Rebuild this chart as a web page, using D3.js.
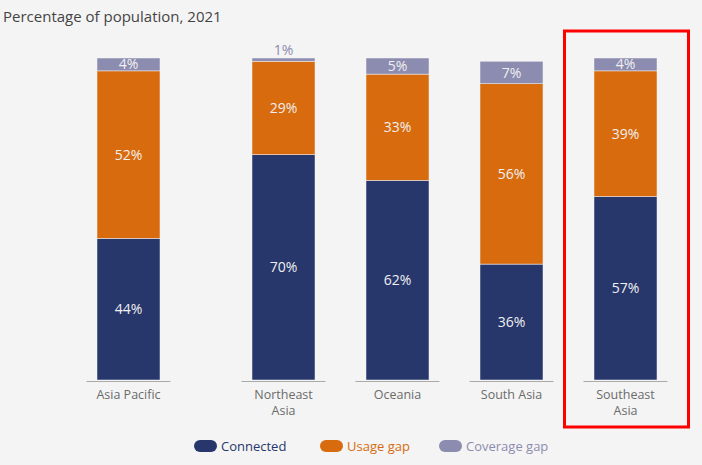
<!DOCTYPE html>
<html>
<head>
<meta charset="utf-8">
<script src="https://cdn.jsdelivr.net/npm/d3@7"></script>
<style>
  body { margin: 0; background: #f4f4f4; }
  svg { display: block; font-family: "Open Sans", "Noto Sans", sans-serif; }
</style>
</head>
<body>
<div id="chart"></div>
<script>
"use strict";

// data
const regions = ["Asia Pacific", "Northeast Asia", "Oceania", "South Asia", "Southeast Asia"];
const regionLines = [["Asia Pacific"], ["Northeast", "Asia"], ["Oceania"], ["South Asia"], ["Southeast", "Asia"]];
const connected = [44, 70, 62, 36, 57];
const usageGap = [52, 29, 33, 56, 39];
const coverageGap = [4, 1, 5, 7, 4];
const seriesNames = ["Connected", "Usage gap", "Coverage gap"];
const seriesColors = ["#27366b", "#d86b0e", "#8c8cb0"];
const highlighted = "Southeast Asia";

const width = 702, height = 465;

var svg = d3.select("#chart").append("svg")
    .attr("width", width)
    .attr("height", height);

svg.append("rect").attr("width", width).attr("height", height).attr("fill", "#f4f4f4");

// title
svg.append("text")
    .attr("x", 3)
    .attr("y", 22)
    .attr("fill", "#444")
    .style("font-size", "15px")
    .text("Percentage of population, 2021");

// scales - the aggregate bar sits apart from the four sub-regions
var x = d3.scaleOrdinal()
    .domain(regions)
    .range([128.5, 283.5, 397.5, 511.5, 625.5]);
const barWidth = 63;

var y = d3.scaleLinear()
    .domain([0, 100])
    .range([380, 58]);

var color = d3.scaleOrdinal().domain(seriesNames).range(seriesColors);

// build rows for the stack
var rows = regions.map(function(r, i) {
  return { region: r, "Connected": connected[i], "Usage gap": usageGap[i], "Coverage gap": coverageGap[i] };
});
var stacked = d3.stack().keys(seriesNames)(rows);

// highlight box
svg.append("rect")
    .attr("x", x(highlighted) - 61)
    .attr("y", 31)
    .attr("width", 124)
    .attr("height", 396)
    .attr("fill", "none")
    .attr("stroke", "#ff0000")
    .attr("stroke-width", 3);

// baseline segments under each bar
svg.selectAll(".base")
    .data(regions)
  .enter().append("line")
    .attr("class", "base")
    .attr("x1", function(d) { return x(d) - 42; })
    .attr("x2", function(d) { return x(d) + 42; })
    .attr("y1", y(0) + 1.5)
    .attr("y2", y(0) + 1.5)
    .attr("stroke", "#aaa")
    .attr("stroke-width", 1);

// bars
var layers = svg.selectAll(".layer")
    .data(stacked)
  .enter().append("g")
    .attr("class", "layer")
    .attr("fill", function(d) { return color(d.key); });

layers.selectAll("rect")
    .data(function(d) { return d; })
  .enter().append("rect")
    .attr("x", function(d) { return x(d.data.region) - barWidth / 2; })
    .attr("width", barWidth)
    .attr("y", function(d) { return y(d[1]); })
    .attr("height", function(d) { return y(d[0]) - y(d[1]); })
    .attr("stroke", "#f4f4f4")
    .attr("stroke-width", 0.5);

// value labels
layers.each(function(layer) {
  var key = layer.key;
  d3.select(this).selectAll("text")
      .data(layer)
    .enter().append("text")
      .attr("x", function(d) { return x(d.data.region); })
      .attr("y", function(d) {
        var v = d[1] - d[0];
        if (v < 3) return y(d[1]) - 8;
        return (y(d[0]) + y(d[1])) / 2;
      })
      .attr("dy", "0.36em")
      .attr("text-anchor", "middle")
      .attr("fill", function(d) { return (d[1] - d[0]) < 3 ? color(key) : "#f0f0f0"; })
      .style("font-size", "14px")
      .text(function(d) { return d.data[key] + "%"; });
});

// category labels
svg.selectAll(".cat")
    .data(regions)
  .enter().append("text")
    .attr("class", "cat")
    .attr("text-anchor", "middle")
    .attr("fill", "#6b6b6b")
    .style("font-size", "12.5px")
    .each(function(d, i) {
      var t = d3.select(this);
      regionLines[i].forEach(function(line, j) {
        t.append("tspan")
          .attr("x", x(d))
          .attr("y", 399 + j * 16)
          .text(line);
      });
    });

// legend
var legendX = [194, 320, 439];
var legend = svg.selectAll(".legend")
    .data(seriesNames)
  .enter().append("g")
    .attr("class", "legend")
    .attr("transform", function(d, i) { return "translate(" + legendX[i] + ",446)"; });

legend.append("rect")
    .attr("x", 0)
    .attr("y", -6)
    .attr("width", 23)
    .attr("height", 12)
    .attr("rx", 6)
    .attr("fill", function(d) { return color(d); });

legend.append("text")
    .attr("x", 27)
    .attr("y", 0)
    .attr("dy", "0.36em")
    .attr("fill", function(d) { return color(d); })
    .style("font-size", "13px")
    .text(function(d) { return d; });
</script>
</body>
</html>
